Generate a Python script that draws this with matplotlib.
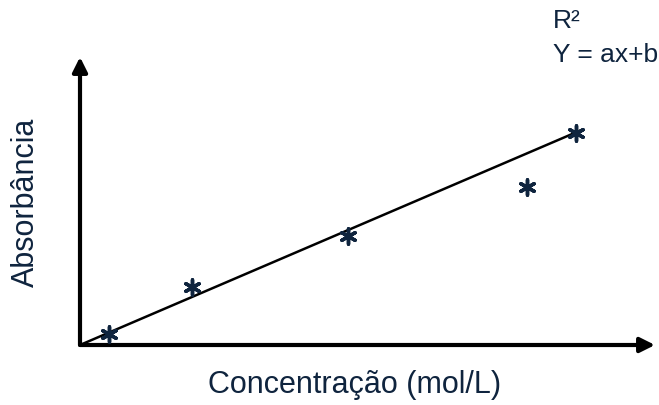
import matplotlib
matplotlib.use("Agg")
import matplotlib.pyplot as plt

# dados (unidades arbitrarias)
conc = [0.50, 1.94, 4.66, 7.78, 8.63]
absorb = [0.038, 0.203, 0.378, 0.55, 0.735]
fit_x = [0.0, 8.75]
fit_y = [0.0, 0.749]

NAVY = "#0F243E"
W, H = 659, 405

fig = plt.figure(figsize=(W / 100, H / 100), dpi=100)
# eixos posicionados em pixels: origem (80, 345), topo 57, direita 655
ax = fig.add_axes([80 / W, 1 - 345 / H, (655 - 80) / W, (345 - 57) / H])
ax.set_xlim(0, 10)
ax.set_ylim(0, 1)
ax.axis("off")

arrow = dict(arrowstyle="-|>", lw=3, color="black", mutation_scale=22,
             shrinkA=0, shrinkB=0)
ax.annotate("", xy=(1.0, 0), xytext=(0, 0), xycoords="axes fraction",
            arrowprops=arrow, annotation_clip=False)
ax.annotate("", xy=(0, 1.0), xytext=(0, 0), xycoords="axes fraction",
            arrowprops=arrow, annotation_clip=False)

ax.plot(fit_x, fit_y, color="black", lw=1.8, solid_capstyle="butt")
ax.scatter(conc, absorb, marker=(6, 2, 0), s=120, color=NAVY, linewidths=2.5,
           zorder=5, clip_on=False)

font = ["Liberation Sans", "DejaVu Sans"]
fig.text(355 / W, 1 - 385 / H, "Concentração (mol/L)", ha="center", va="center",
         fontsize=22, color=NAVY, family=font)
fig.text(26 / W, 1 - 202 / H, "Absorbância", ha="center", va="center",
         rotation=90, fontsize=22, color=NAVY, family=font)
fig.text(553 / W, 1 - 28 / H, "R²", ha="left", va="baseline",
         fontsize=19, color=NAVY, family=font)
fig.text(553 / W, 1 - 62 / H, "Y = ax+b", ha="left", va="baseline",
         fontsize=19, color=NAVY, family=font)

fig.savefig("out.png", dpi=100)
